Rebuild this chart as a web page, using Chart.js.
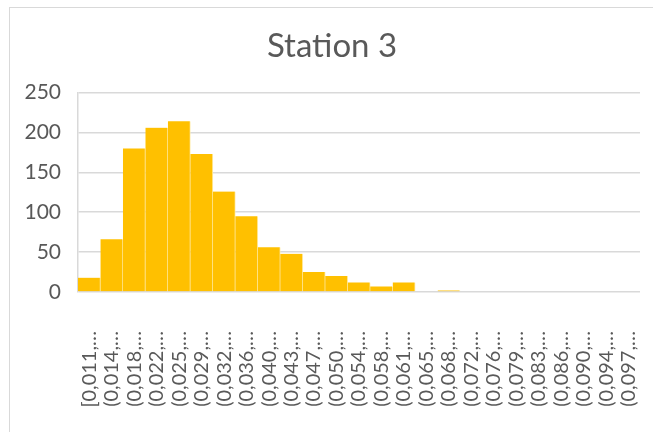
<!DOCTYPE html>
<html>
<head>
<meta charset="utf-8">
<script src="https://cdn.jsdelivr.net/npm/chart.js@4/dist/chart.umd.min.js"></script>
<style>
  html, body { margin: 0; padding: 0; background: #ffffff; overflow: hidden; }
  #wrap { position: relative; width: 653px; height: 432px; }
  #frame { position: absolute; left: 9px; top: 7px; width: 700px; height: 500px; border: 1px solid #d9d9d9; box-sizing: border-box; }
  canvas { position: absolute; left: 0; top: 0; }
</style>
</head>
<body>
<div id="wrap">
  <div id="frame"></div>
  <canvas id="chart" width="653" height="432"></canvas>
</div>
<script>
// Histogram bins (lower bound shown, truncated as in the axis)
const binLabels = [
  "[0,011,…", "(0,014,…", "(0,018,…", "(0,022,…", "(0,025,…",
  "(0,029,…", "(0,032,…", "(0,036,…", "(0,040,…", "(0,043,…",
  "(0,047,…", "(0,050,…", "(0,054,…", "(0,058,…", "(0,061,…",
  "(0,065,…", "(0,068,…", "(0,072,…", "(0,076,…", "(0,079,…",
  "(0,083,…", "(0,086,…", "(0,090,…", "(0,094,…", "(0,097,…"
];

// Counts per bin
const counts = [
  18, 66, 180, 206, 214,
  173, 126, 95, 56, 48,
  25, 20, 12, 7, 12,
  0, 2, 1, 1, 0,
  1, 0, 1, 1, 0
];

const yTicks = [0, 50, 100, 150, 200, 250];

const textColor = '#595959';
const gridColor = '#d9d9d9';
const fontFamily = 'Lato, "Open Sans", sans-serif';

new Chart(document.getElementById('chart'), {
  type: 'bar',
  data: {
    labels: binLabels,
    datasets: [{
      data: counts,
      backgroundColor: '#ffc000',
      borderColor: 'rgba(255,236,170,1)',
      borderWidth: { left: 0, right: 1, top: 0, bottom: 0 },
      borderSkipped: false,
      categoryPercentage: 1.0,
      barPercentage: 1.0
    }]
  },
  options: {
    responsive: false,
    animation: false,
    devicePixelRatio: 1,
    layout: { padding: { top: 7, left: 24, right: 13, bottom: 0 } },
    plugins: {
      legend: { display: false },
      tooltip: { enabled: false },
      title: {
        display: true,
        text: 'Station 3',
        color: textColor,
        font: { family: fontFamily, size: 33, weight: 'normal' },
        padding: { top: 20, bottom: 26 }
      }
    },
    scales: {
      x: {
        grid: { display: false, drawTicks: false },
        border: { display: false },
        ticks: {
          color: textColor,
          font: { family: fontFamily, size: 20 },
          minRotation: 90,
          maxRotation: 90,
          autoSkip: false,
          padding: 39
        },
        afterFit: (scale) => {
          scale.height = 140;
          scale.paddingLeft = 0;
          scale.paddingRight = 0;
        }
      },
      y: {
        min: 0,
        max: 250,
        afterBuildTicks: (scale) => { scale.ticks = yTicks.map(v => ({ value: v })); },
        grid: { color: gridColor, lineWidth: 1.5, drawTicks: false },
        border: { display: true, color: gridColor, width: 1.5 },
        ticks: {
          color: textColor,
          font: { family: fontFamily, size: 21 },
          padding: 17
        },
        afterFit: (scale) => { scale.width = 54; }
      }
    }
  }
});
</script>
</body>
</html>
